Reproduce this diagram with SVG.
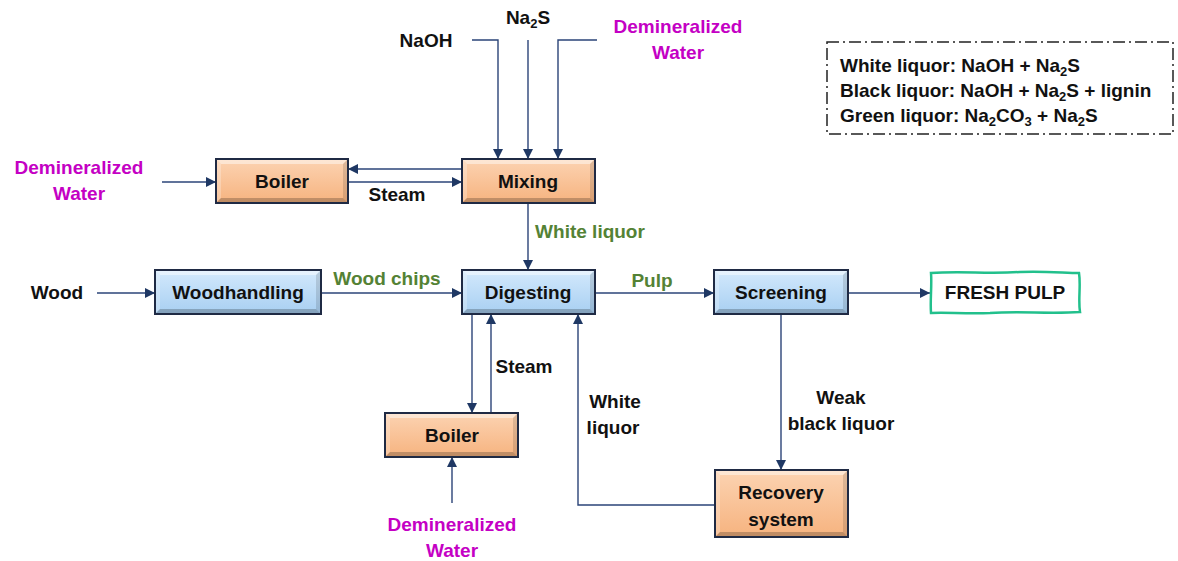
<svg xmlns="http://www.w3.org/2000/svg" width="1178" height="561" viewBox="0 0 1178 561">
<defs>
<linearGradient id="gOr" x1="0" y1="0" x2="0" y2="1"><stop offset="0" stop-color="#fcd3b2"/><stop offset="1" stop-color="#f6b37f"/></linearGradient>
<linearGradient id="gBl" x1="0" y1="0" x2="0" y2="1"><stop offset="0" stop-color="#d3e9fc"/><stop offset="1" stop-color="#a8cff2"/></linearGradient>
<marker id="ah" viewBox="0 0 10 10" refX="10" refY="5" markerWidth="10" markerHeight="10" markerUnits="userSpaceOnUse" orient="auto"><path d="M0,0 L10,5 L0,10 Z" fill="#1f3864"/></marker>
</defs>
<style>
.t{font-family:"Liberation Sans",Arial,sans-serif;font-weight:bold;font-size:19px;fill:#111}
.c{text-anchor:middle}
.g{fill:#548235}
.m{fill:#c400c4}
.box{stroke:#1f2a44;stroke-width:2}
.or{fill:url(#gOr)}
.bl{fill:url(#gBl)}
.hi{fill:#ffffff;opacity:.45}
.hs{fill:#ffffff;opacity:.25}
.sh{fill:#000;opacity:.12}
.sd{fill:#000;opacity:.22}
.ln{fill:none;stroke:#2b4478;stroke-width:1.4}
.ar{marker-end:url(#ah)}
.sub{font-size:13px}
</style>
<rect width="1178" height="561" fill="#fff"/>

<g id="connectors">
<path class="ln ar" d="M162,182 H216"/>
<path class="ln ar" d="M462,169 H348"/>
<path class="ln ar" d="M348,182 H462"/>
<path class="ln ar" d="M472,40 H498 V159"/>
<path class="ln ar" d="M528,40 V159"/>
<path class="ln ar" d="M597,40 H558 V159"/>
<path class="ln ar" d="M528,203 V270"/>
<path class="ln ar" d="M97,293 H155"/>
<path class="ln ar" d="M321,293 H462"/>
<path class="ln ar" d="M595,293 H714"/>
<path class="ln ar" d="M848,293 H930"/>
<path class="ln ar" d="M472,314 V413"/>
<path class="ln ar" d="M491,413 V314"/>
<path class="ln ar" d="M452,503 V457"/>
<path class="ln ar" d="M781,314 V470"/>
<path class="ln ar" d="M715,505 H578 V314"/>
</g>

<g id="boiler-top">
<rect class="box or" x="216" y="159" width="132" height="44"/>
<path class="hi" d="M217,160 H347 L343,164 H221 Z"/><path class="hs" d="M217,160 L221,164 V198 L217,202 Z"/>
<path class="sh" d="M347,160 V202 L343,198 V164 Z"/><path class="sd" d="M217,202 H347 L343,198 H221 Z"/>
<text class="t c" x="282" y="188">Boiler</text>
</g>
<g id="mixing">
<rect class="box or" x="462" y="159" width="133" height="44"/>
<path class="hi" d="M463,160 H594 L590,164 H467 Z"/><path class="hs" d="M463,160 L467,164 V198 L463,202 Z"/>
<path class="sh" d="M594,160 V202 L590,198 V164 Z"/><path class="sd" d="M463,202 H594 L590,198 H467 Z"/>
<text class="t c" x="528" y="188">Mixing</text>
</g>
<g id="woodhandling">
<rect class="box bl" x="155" y="270" width="166" height="44"/>
<path class="hi" d="M156,271 H320 L316,275 H160 Z"/><path class="hs" d="M156,271 L160,275 V309 L156,313 Z"/>
<path class="sh" d="M320,271 V313 L316,309 V275 Z"/><path class="sd" d="M156,313 H320 L316,309 H160 Z"/>
<text class="t c" x="238" y="299">Woodhandling</text>
</g>
<g id="digesting">
<rect class="box bl" x="462" y="270" width="133" height="44"/>
<path class="hi" d="M463,271 H594 L590,275 H467 Z"/><path class="hs" d="M463,271 L467,275 V309 L463,313 Z"/>
<path class="sh" d="M594,271 V313 L590,309 V275 Z"/><path class="sd" d="M463,313 H594 L590,309 H467 Z"/>
<text class="t c" x="528" y="299">Digesting</text>
</g>
<g id="screening">
<rect class="box bl" x="714" y="270" width="134" height="44"/>
<path class="hi" d="M715,271 H847 L843,275 H719 Z"/><path class="hs" d="M715,271 L719,275 V309 L715,313 Z"/>
<path class="sh" d="M847,271 V313 L843,309 V275 Z"/><path class="sd" d="M715,313 H847 L843,309 H719 Z"/>
<text class="t c" x="781" y="299">Screening</text>
</g>
<g id="fresh-pulp">
<path d="M931,273 C960,271 990,274 1020,272 C1045,271 1065,273 1079,273 C1081,285 1078,300 1080,312 C1050,314 1020,311 990,313 C965,314 945,312 931,313 C930,300 932,286 931,273 Z" fill="#fff" stroke="#22c08c" stroke-width="2.5"/>
<text class="t c" x="1005" y="299">FRESH PULP</text>
</g>
<g id="boiler-bottom">
<rect class="box or" x="385" y="413" width="133" height="44"/>
<path class="hi" d="M386,414 H517 L513,418 H390 Z"/><path class="hs" d="M386,414 L390,418 V452 L386,456 Z"/>
<path class="sh" d="M517,414 V456 L513,452 V418 Z"/><path class="sd" d="M386,456 H517 L513,452 H390 Z"/>
<text class="t c" x="452" y="442">Boiler</text>
</g>
<g id="recovery">
<rect class="box or" x="715" y="470" width="133" height="67"/>
<path class="hi" d="M716,471 H847 L843,475 H720 Z"/><path class="hs" d="M716,471 L720,475 V532 L716,536 Z"/>
<path class="sh" d="M847,471 V536 L843,532 V475 Z"/><path class="sd" d="M716,536 H847 L843,532 H720 Z"/>
<text class="t c" x="781" y="499">Recovery</text>
<text class="t c" x="781" y="526">system</text>
</g>

<g id="labels">
<text class="t c" x="426" y="47">NaOH</text>
<text class="t c" x="528" y="24">Na<tspan class="sub" dy="4">2</tspan><tspan dy="-4">S</tspan></text>
<text class="t c m" x="678" y="33">Demineralized</text>
<text class="t c m" x="678" y="59">Water</text>
<text class="t c m" x="79" y="174">Demineralized</text>
<text class="t c m" x="79" y="200">Water</text>
<text class="t c" x="397" y="201">Steam</text>
<text class="t c g" x="590" y="238">White liquor</text>
<text class="t c" x="57" y="299">Wood</text>
<text class="t c g" x="387" y="285">Wood chips</text>
<text class="t c g" x="652" y="287">Pulp</text>
<text class="t c" x="524" y="373">Steam</text>
<text class="t c" x="615" y="408">White</text>
<text class="t c" x="613" y="434">liquor</text>
<text class="t c" x="841" y="404">Weak</text>
<text class="t c" x="841" y="430">black liquor</text>
<text class="t c m" x="452" y="531">Demineralized</text>
<text class="t c m" x="452" y="557">Water</text>
</g>

<g id="legend">
<rect x="827" y="42" width="346" height="92" fill="none" stroke="#222" stroke-width="1.5" stroke-dasharray="12,4,2,4"/>
<text class="t" x="840" y="72">White liquor: NaOH + Na<tspan class="sub" dy="4">2</tspan><tspan dy="-4">S</tspan></text>
<text class="t" x="840" y="97">Black liquor: NaOH + Na<tspan class="sub" dy="4">2</tspan><tspan dy="-4">S + lignin</tspan></text>
<text class="t" x="840" y="122">Green liquor: Na<tspan class="sub" dy="4">2</tspan><tspan dy="-4">CO</tspan><tspan class="sub" dy="4">3</tspan><tspan dy="-4"> + Na</tspan><tspan class="sub" dy="4">2</tspan><tspan dy="-4">S</tspan></text>
</g>
</svg>
